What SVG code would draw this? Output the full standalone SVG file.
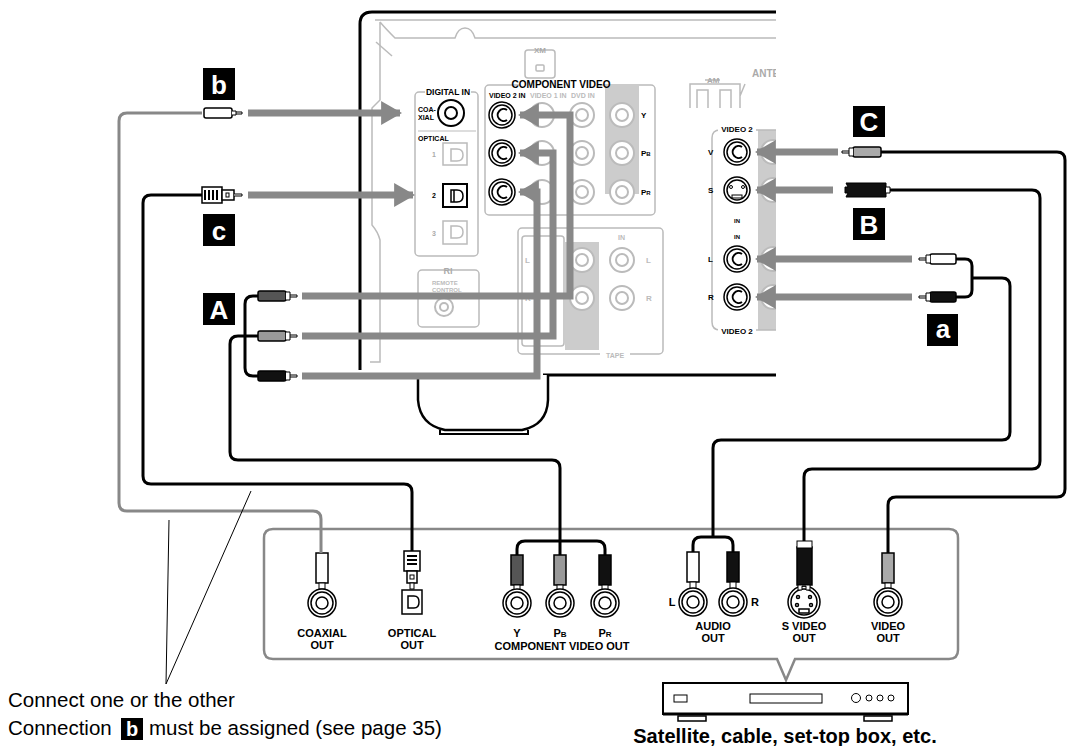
<svg xmlns="http://www.w3.org/2000/svg" width="1076" height="746" viewBox="0 0 1076 746">
<defs>
<style>
.t{font-family:"Liberation Sans",Arial,sans-serif;font-weight:bold;fill:#000}
.g{fill:none;stroke:#bbb;stroke-width:1.5}
.arr{fill:none;stroke:#888;stroke-width:7}
.cb{fill:none;stroke:#000;stroke-width:3;stroke-linejoin:round}
.cg{fill:none;stroke:#888;stroke-width:3;stroke-linejoin:round}
.lab{fill:#000}
.lt{font-family:"Liberation Sans",Arial,sans-serif;font-weight:bold;fill:#fff;font-size:26px;text-anchor:middle}
.gj{fill:#fff;stroke:#bbb;stroke-width:2}
.bj{fill:#fff;stroke:#000;stroke-width:2}
.n{font-family:"Liberation Sans",Arial,sans-serif;font-size:20.5px;fill:#000}
</style>
<marker id="ah" viewBox="0 0 10 10" refX="9" refY="5" markerWidth="3" markerHeight="3.4" orient="auto" markerUnits="strokeWidth" preserveAspectRatio="none"><path d="M0,0L10,5L0,10z" fill="#888"/></marker>
</defs>
<rect width="1076" height="746" fill="#fff"/>

<g id="receiver">
<path d="M360,370V24Q360,12 372,12H776" fill="none" stroke="#000" stroke-width="3"/>
<path d="M543,375H776" fill="none" stroke="#000" stroke-width="3"/>
<path d="M418,375V400Q420,425 445,430H522Q547,425 548,400V375" fill="#fff" stroke="#000" stroke-width="2.5"/>
<path d="M440,430V434H528V430" fill="none" stroke="#000" stroke-width="2"/>
<path class="g" d="M375,20H776 M380,22V100L372,108V225Q378,232 380,240V362H370 M380,22Q385,28 395,38H455Q458,28 465,28Q472,28 475,38H776"/>
<path class="g" d="M376,42L392,56"/>
<rect class="g" x="525" y="50" width="30" height="28" rx="3"/>
<text class="t" x="540" y="53" font-size="8" text-anchor="middle" style="fill:#aaa">XM</text>
<rect class="g" x="536" y="65" width="8" height="6" rx="1"/>
<text class="t" x="752" y="77" font-size="10" style="fill:#aaa">ANTE</text>
<path class="g" d="M690,108V84H740V108 M697,108V90H708V108 M720,108V90H731V108 M705,80H720 M745,84l-5,12"/>
<text class="t" x="707" y="83" font-size="8" style="fill:#aaa">AM</text>
<rect class="g" x="415" y="92" width="63" height="164" rx="4"/>
<rect x="425" y="88" width="46" height="8" fill="#fff"/>
<text class="t" x="448" y="95" font-size="8.5" text-anchor="middle">DIGITAL IN</text>
<text class="t" x="418" y="112" font-size="7">COA-</text>
<text class="t" x="418" y="120" font-size="7">XIAL</text>
<circle class="bj" cx="451" cy="113" r="13"/><circle class="bj" cx="451" cy="113" r="6"/>
<line x1="418" y1="131" x2="476" y2="131" stroke="#bbb"/>
<text class="t" x="418" y="141" font-size="7">OPTICAL</text>
<rect class="g" x="443" y="143" width="24" height="22"/><text class="t" x="432" y="157" font-size="7" style="fill:#aaa">1</text>
<rect x="443" y="184" width="24" height="23" fill="#fff" stroke="#000" stroke-width="2"/><text class="t" x="432" y="198" font-size="7">2</text>
<path d="M451,190h6q6,0 6,6q0,6 -6,6h-6z M454,190v12" fill="none" stroke="#000" stroke-width="1.5"/>
<path class="g" d="M451,149h6q6,0 6,6q0,6 -6,6h-6z M451,226h6q6,0 6,6q0,6 -6,6h-6z"/>
<rect class="g" x="443" y="221" width="24" height="23"/><text class="t" x="432" y="236" font-size="7" style="fill:#aaa">3</text>
<rect class="g" x="418" y="270" width="61" height="57" rx="4"/>
<text class="t" x="448" y="274" font-size="9" style="fill:#aaa" text-anchor="middle">RI</text>
<text class="t" x="432" y="285" font-size="6" style="fill:#bbb">REMOTE</text>
<text class="t" x="432" y="292" font-size="6" style="fill:#bbb">CONTROL</text>
<circle class="gj" cx="444" cy="307" r="9"/><circle class="gj" cx="444" cy="307" r="4"/>
<rect class="g" x="485" y="85" width="170" height="130" rx="4"/>
<rect x="605" y="84" width="34" height="110" fill="#ccc"/>
<rect x="520" y="80" width="80" height="8" fill="#fff"/>
<text class="t" x="561" y="88" font-size="10" text-anchor="middle">COMPONENT VIDEO</text>
<text class="t" x="489" y="98" font-size="7">VIDEO 2 IN</text>
<text class="t" x="530" y="98" font-size="7" style="fill:#bbb">VIDEO 1 IN</text>
<text class="t" x="571" y="98" font-size="7" style="fill:#bbb">DVD IN</text>
<circle class="gj" cx="542" cy="115" r="12"/><circle class="gj" cx="542" cy="153" r="12"/><circle class="gj" cx="542" cy="192" r="12"/>
<circle class="gj" cx="582" cy="115" r="12"/><circle class="gj" cx="582" cy="115" r="6"/>
<circle class="gj" cx="582" cy="153" r="12"/><circle class="gj" cx="582" cy="153" r="6"/>
<circle class="gj" cx="582" cy="192" r="12"/><circle class="gj" cx="582" cy="192" r="6"/>
<circle class="gj" cx="622" cy="115" r="12"/><circle class="gj" cx="622" cy="115" r="6"/>
<circle class="gj" cx="622" cy="153" r="12"/><circle class="gj" cx="622" cy="153" r="6"/>
<circle class="gj" cx="622" cy="192" r="12"/><circle class="gj" cx="622" cy="192" r="6"/>
<circle cx="502" cy="115" r="13" fill="#fff" stroke="#000" stroke-width="1.5"/><circle cx="502" cy="115" r="10" fill="none" stroke="#000" stroke-width="1.5"/><path d="M507,110a6,6 0 1 0 0,10" fill="none" stroke="#000" stroke-width="2"/>
<circle cx="502" cy="153" r="13" fill="#fff" stroke="#000" stroke-width="1.5"/><circle cx="502" cy="153" r="10" fill="none" stroke="#000" stroke-width="1.5"/><path d="M507,148a6,6 0 1 0 0,10" fill="none" stroke="#000" stroke-width="2"/>
<circle cx="502" cy="192" r="13" fill="#fff" stroke="#000" stroke-width="1.5"/><circle cx="502" cy="192" r="10" fill="none" stroke="#000" stroke-width="1.5"/><path d="M507,187a6,6 0 1 0 0,10" fill="none" stroke="#000" stroke-width="2"/>
<text class="t" x="641" y="118" font-size="8">Y</text>
<text class="t" x="641" y="156" font-size="8">P<tspan font-size="6">B</tspan></text>
<text class="t" x="641" y="195" font-size="8">P<tspan font-size="6">R</tspan></text>
<rect class="g" x="518" y="228" width="145" height="126" rx="4"/>
<rect class="g" x="522" y="236" width="42" height="110" rx="3"/>
<rect x="565" y="242" width="34" height="108" fill="#ccc"/>
<circle class="gj" cx="582" cy="260" r="12"/><circle class="gj" cx="582" cy="260" r="6"/>
<circle class="gj" cx="582" cy="298" r="12"/><circle class="gj" cx="582" cy="298" r="6"/>
<circle class="gj" cx="622" cy="260" r="12"/><circle class="gj" cx="622" cy="260" r="6"/>
<circle class="gj" cx="622" cy="298" r="12"/><circle class="gj" cx="622" cy="298" r="6"/>
<text class="t" x="525" y="263" font-size="8" style="fill:#bbb">L</text>
<text class="t" x="525" y="301" font-size="8" style="fill:#bbb">R</text>
<text class="t" x="646" y="263" font-size="8" style="fill:#bbb">L</text>
<text class="t" x="646" y="301" font-size="8" style="fill:#bbb">R</text>
<text class="t" x="618" y="240" font-size="7" style="fill:#bbb">IN</text>
<rect x="600" y="350" width="30" height="8" fill="#fff"/>
<text class="t" x="615" y="358" font-size="7" style="fill:#bbb" text-anchor="middle">TAPE</text>
<rect x="758" y="130" width="20" height="200" fill="#ccc"/>
<path class="g" d="M776,130H720Q712,130 712,138V322Q712,330 720,330H776"/>
<rect x="718" y="124" width="38" height="10" fill="#fff"/>
<text class="t" x="737" y="132" font-size="8" text-anchor="middle">VIDEO 2</text>
<rect x="718" y="326" width="38" height="10" fill="#fff"/>
<text class="t" x="737" y="334" font-size="8" text-anchor="middle">VIDEO 2</text>
<circle class="gj" cx="773" cy="152" r="12"/><circle class="gj" cx="773" cy="190" r="12"/><circle class="gj" cx="773" cy="259" r="12"/><circle class="gj" cx="773" cy="297" r="12"/>
<rect x="776" y="0" width="300" height="380" fill="#fff"/>
<circle cx="737" cy="152" r="13" fill="#fff" stroke="#000" stroke-width="1.5"/><circle cx="737" cy="152" r="10" fill="none" stroke="#000" stroke-width="1.5"/><path d="M742,147a6,6 0 1 0 0,10" fill="none" stroke="#000" stroke-width="2"/>
<circle cx="737" cy="190" r="13" fill="#fff" stroke="#000" stroke-width="1.5"/><circle cx="737" cy="190" r="10" fill="none" stroke="#000" stroke-width="1.5"/>
<circle cx="731" cy="187" r="1.5" fill="none" stroke="#000"/><circle cx="743" cy="187" r="1.5" fill="none" stroke="#000"/><rect x="732" y="195" width="10" height="3" fill="none" stroke="#000"/>
<circle cx="737" cy="259" r="13" fill="#fff" stroke="#000" stroke-width="1.5"/><circle cx="737" cy="259" r="10" fill="none" stroke="#000" stroke-width="1.5"/><path d="M742,254a6,6 0 1 0 0,10" fill="none" stroke="#000" stroke-width="2"/>
<circle cx="737" cy="297" r="13" fill="#fff" stroke="#000" stroke-width="1.5"/><circle cx="737" cy="297" r="10" fill="none" stroke="#000" stroke-width="1.5"/><path d="M742,292a6,6 0 1 0 0,10" fill="none" stroke="#000" stroke-width="2"/>
<text class="t" x="708" y="155" font-size="8">V</text>
<text class="t" x="708" y="193" font-size="8">S</text>
<text class="t" x="708" y="262" font-size="8">L</text>
<text class="t" x="708" y="300" font-size="8">R</text>
<text class="t" x="737" y="223" font-size="6" text-anchor="middle">IN</text>
<text class="t" x="737" y="239" font-size="6" text-anchor="middle">IN</text>
</g>

<g id="source">
<path d="M264,538Q264,529 273,529H949Q958,529 958,538V650Q958,659 949,659H795L786,680L777,659H273Q264,659 264,650Z" fill="#fff" stroke="#888" stroke-width="2.5"/>
<rect x="316" y="553" width="12" height="30" fill="#fff" stroke="#000" stroke-width="1.5"/><rect x="319" y="583" width="6" height="6" fill="#fff" stroke="#000"/>
<rect x="404" y="551" width="16" height="20" fill="#fff" stroke="#000" stroke-width="1.5"/><path d="M407,556h10M407,560h10M407,564h10" stroke="#000" stroke-width="2"/>
<rect x="407" y="571" width="10" height="12" fill="#fff" stroke="#000" stroke-width="1.5"/><rect x="410" y="575" width="4" height="4" fill="none" stroke="#000"/><rect x="410" y="583" width="4" height="6" fill="#fff" stroke="#000"/>
<rect x="511" y="555" width="12" height="30" fill="#555" stroke="#000" stroke-width="1.5"/><rect x="514" y="585" width="6" height="5" fill="#fff" stroke="#000"/>
<rect x="554" y="555" width="12" height="30" fill="#999" stroke="#000" stroke-width="1.5"/><rect x="557" y="585" width="6" height="5" fill="#fff" stroke="#000"/>
<rect x="599" y="555" width="12" height="30" fill="#111" stroke="#000" stroke-width="1.5"/><rect x="602" y="585" width="6" height="5" fill="#fff" stroke="#000"/>
<rect x="687" y="552" width="12" height="30" fill="#fff" stroke="#000" stroke-width="1.5"/><rect x="690" y="582" width="6" height="7" fill="#fff" stroke="#000"/>
<rect x="727" y="552" width="12" height="30" fill="#111" stroke="#000" stroke-width="1.5"/><rect x="730" y="582" width="6" height="7" fill="#fff" stroke="#000"/>
<rect x="797" y="547" width="15" height="38" fill="#111" stroke="#000" stroke-width="1.5"/>
<rect x="882" y="553" width="12" height="30" fill="#aaa" stroke="#000" stroke-width="1.5"/><rect x="885" y="583" width="6" height="6" fill="#fff" stroke="#000"/>
<g fill="#fff" stroke="#000" stroke-width="1.5">
<circle cx="322" cy="603" r="14"/><circle cx="322" cy="603" r="11"/><circle cx="322" cy="603" r="6"/>
<rect x="402" y="590" width="20" height="24"/><path d="M408,596h6q5,0 5,6q0,6 -5,6h-6z"/>
<circle cx="517" cy="603" r="14"/><circle cx="517" cy="603" r="11"/><circle cx="517" cy="603" r="6"/>
<circle cx="560" cy="603" r="14"/><circle cx="560" cy="603" r="11"/><circle cx="560" cy="603" r="6"/>
<circle cx="605" cy="603" r="14"/><circle cx="605" cy="603" r="11"/><circle cx="605" cy="603" r="6"/>
<circle cx="693" cy="602" r="14"/><circle cx="693" cy="602" r="11"/><circle cx="693" cy="602" r="6"/>
<circle cx="733" cy="602" r="14"/><circle cx="733" cy="602" r="11"/><circle cx="733" cy="602" r="6"/>
<circle cx="804" cy="602" r="16"/><circle cx="804" cy="602" r="13"/><circle cx="798" cy="597" r="1.5"/><circle cx="810" cy="597" r="1.5"/><circle cx="797" cy="605" r="1.5"/><circle cx="811" cy="605" r="1.5"/><rect x="799" y="609" width="10" height="4"/>
<circle cx="888" cy="602" r="14"/><circle cx="888" cy="602" r="11"/><circle cx="888" cy="602" r="6"/>
</g>
<path d="M798,585v5h4v-4h4v4h4v-5z" fill="#fff" stroke="#000"/>
<g class="t" font-size="11" text-anchor="middle">
<text x="322" y="637">COAXIAL</text><text x="322" y="649">OUT</text>
<text x="412" y="637">OPTICAL</text><text x="412" y="649">OUT</text>
<text x="517" y="637">Y</text><text x="560" y="637">P<tspan font-size="8">B</tspan></text><text x="605" y="637">P<tspan font-size="8">R</tspan></text>
<text x="562" y="650">COMPONENT VIDEO OUT</text>
<text x="713" y="630">AUDIO</text><text x="713" y="642">OUT</text>
<text x="672" y="606">L</text><text x="755" y="606">R</text>
<text x="804" y="630">S VIDEO</text><text x="804" y="642">OUT</text>
<text x="888" y="630">VIDEO</text><text x="888" y="642">OUT</text>
</g>
<rect x="663" y="683" width="245" height="31" fill="#fff" stroke="#000" stroke-width="2"/>
<rect x="678" y="716" width="28" height="5" fill="#fff" stroke="#000" stroke-width="1.5"/><rect x="864" y="716" width="28" height="5" fill="#fff" stroke="#000" stroke-width="1.5"/>
<line x1="663" y1="714" x2="908" y2="714" stroke="#000" stroke-width="3"/>
<rect x="674" y="695" width="13" height="7" fill="none" stroke="#000"/>
<rect x="750" y="694" width="72" height="9" fill="none" stroke="#000"/>
<circle cx="856" cy="698" r="4.5" fill="none" stroke="#000"/><circle cx="869" cy="698" r="3" fill="none" stroke="#000"/><circle cx="880" cy="698" r="3" fill="none" stroke="#000"/><circle cx="891" cy="698" r="3" fill="none" stroke="#000"/>
<text x="785" y="743" font-family="Liberation Sans, Arial, sans-serif" font-weight="bold" font-size="20" text-anchor="middle">Satellite, cable, set-top box, etc.</text>
</g>

<g id="connectors">
<path class="arr" marker-end="url(#ah)" d="M248,113H400"/>
<path class="arr" marker-end="url(#ah)" d="M248,195H413"/>
<path class="arr" marker-end="url(#ah)" d="M302,296H570V115H520"/>
<path class="arr" marker-end="url(#ah)" d="M302,336H553V153H520"/>
<path class="arr" marker-end="url(#ah)" d="M302,376H537V192H520"/>
<path class="arr" marker-end="url(#ah)" d="M838,152H757"/>
<path class="arr" marker-end="url(#ah)" d="M833,190H757"/>
<path class="arr" marker-end="url(#ah)" d="M912,259H757"/>
<path class="arr" marker-end="url(#ah)" d="M912,297H757"/>
<path class="cg" d="M202,113H127Q119,113 119,121V503Q119,511 127,511H313Q321,511 321,519V553"/>
<path class="cb" d="M202,195H151Q143,195 143,203V476Q143,484 151,484H404Q412,484 412,492V551"/>
<path class="cb" d="M258,296H253Q245,296 245,304V368Q245,376 253,376H258"/>
<path class="cb" d="M258,336H238Q230,336 230,344V452Q230,460 238,460H552Q560,460 560,468V555"/>
<path class="cb" d="M517,555V549Q517,541 525,541H597Q605,541 605,549V555"/>
<path class="cb" d="M930,259H965Q972,259 972,266V290Q972,297 965,297H930 M972,278H1002Q1010,278 1010,286V432Q1010,440 1002,440H721Q713,440 713,448V537"/>
<path class="cb" d="M693,552V545Q693,537 701,537H725Q733,537 733,545V552"/>
<path class="cb" d="M890,190H1032Q1040,190 1040,198V461Q1040,469 1032,469H812Q804,469 804,477V547"/>
<path class="cb" d="M880,152H1057Q1065,152 1065,160V489Q1065,497 1057,497H896Q888,497 888,505V553"/>
</g>

<g id="plugs">
<rect x="204" y="108" width="28" height="10" rx="2" fill="#fff" stroke="#000" stroke-width="1.5"/><path d="M232,111h4v4h-4M236,112h6v2h-6" fill="#fff" stroke="#000"/>
<rect x="202" y="187" width="20" height="16" fill="#fff" stroke="#000" stroke-width="1.5"/><path d="M205,190v10M209,190v10M213,190v10M217,190v10" stroke="#000" stroke-width="2"/>
<rect x="222" y="190" width="12" height="10" fill="#fff" stroke="#000" stroke-width="1.5"/><rect x="226" y="193" width="3" height="4" fill="none" stroke="#000"/><path d="M234,194h8v2h-8" fill="#fff" stroke="#000"/>
<rect x="258" y="291" width="28" height="10" rx="2" fill="#555" stroke="#000" stroke-width="1.5"/><path d="M286,292h4v8h-4M290,295h7v2h-7" fill="#fff" stroke="#000"/>
<rect x="258" y="331" width="28" height="10" rx="2" fill="#999" stroke="#000" stroke-width="1.5"/><path d="M286,332h4v8h-4M290,335h7v2h-7" fill="#fff" stroke="#000"/>
<rect x="258" y="371" width="28" height="10" rx="2" fill="#111" stroke="#000" stroke-width="1.5"/><path d="M286,372h4v8h-4M290,375h7v2h-7" fill="#fff" stroke="#000"/>
<rect x="853" y="147" width="28" height="10" rx="2" fill="#aaa" stroke="#000" stroke-width="1.5"/><path d="M853,148h-4v8h4M849,151h-7v2h7" fill="#fff" stroke="#000"/>
<path d="M846,183h40v14h-40l2,-4h-3v-6h3z" fill="#111" stroke="#000"/><path d="M886,187h4v6h-4" fill="#fff" stroke="#000"/>
<rect x="930" y="254" width="26" height="10" rx="2" fill="#fff" stroke="#000" stroke-width="1.5"/><path d="M930,255h-4v8h4M926,258h-7v2h7" fill="#fff" stroke="#000"/>
<rect x="930" y="292" width="26" height="10" rx="2" fill="#111" stroke="#000" stroke-width="1.5"/><path d="M930,293h-4v8h4M926,296h-7v2h7" fill="#fff" stroke="#000"/>
<rect x="797" y="541" width="15" height="7" fill="#fff" stroke="#000"/>
</g>

<g id="labels">
<rect class="lab" x="203" y="68" width="32" height="32"/><text class="lt" x="219" y="94">b</text>
<rect class="lab" x="203" y="214" width="32" height="32"/><text class="lt" x="219" y="240">c</text>
<rect class="lab" x="203" y="293" width="32" height="32"/><text class="lt" x="219" y="319">A</text>
<rect class="lab" x="853" y="106" width="32" height="31"/><text class="lt" x="869" y="131">C</text>
<rect class="lab" x="853" y="208" width="32" height="32"/><text class="lt" x="869" y="234">B</text>
<rect class="lab" x="927" y="314" width="31" height="32"/><text class="lt" x="943" y="338">a</text>
</g>

<g id="note">
<path d="M169,520L166,684L251,491" fill="none" stroke="#000" stroke-width="1"/>
<text class="n" x="8" y="707">Connect one or the other</text>
<text class="n" x="8" y="735">Connection</text>
<rect x="121" y="718" width="22" height="22" fill="#000"/>
<text x="132" y="736" font-family="Liberation Sans, Arial, sans-serif" font-weight="bold" font-size="20" fill="#fff" text-anchor="middle">b</text>
<text class="n" x="149" y="735">must be assigned (see page 35)</text>
</g>
</svg>
